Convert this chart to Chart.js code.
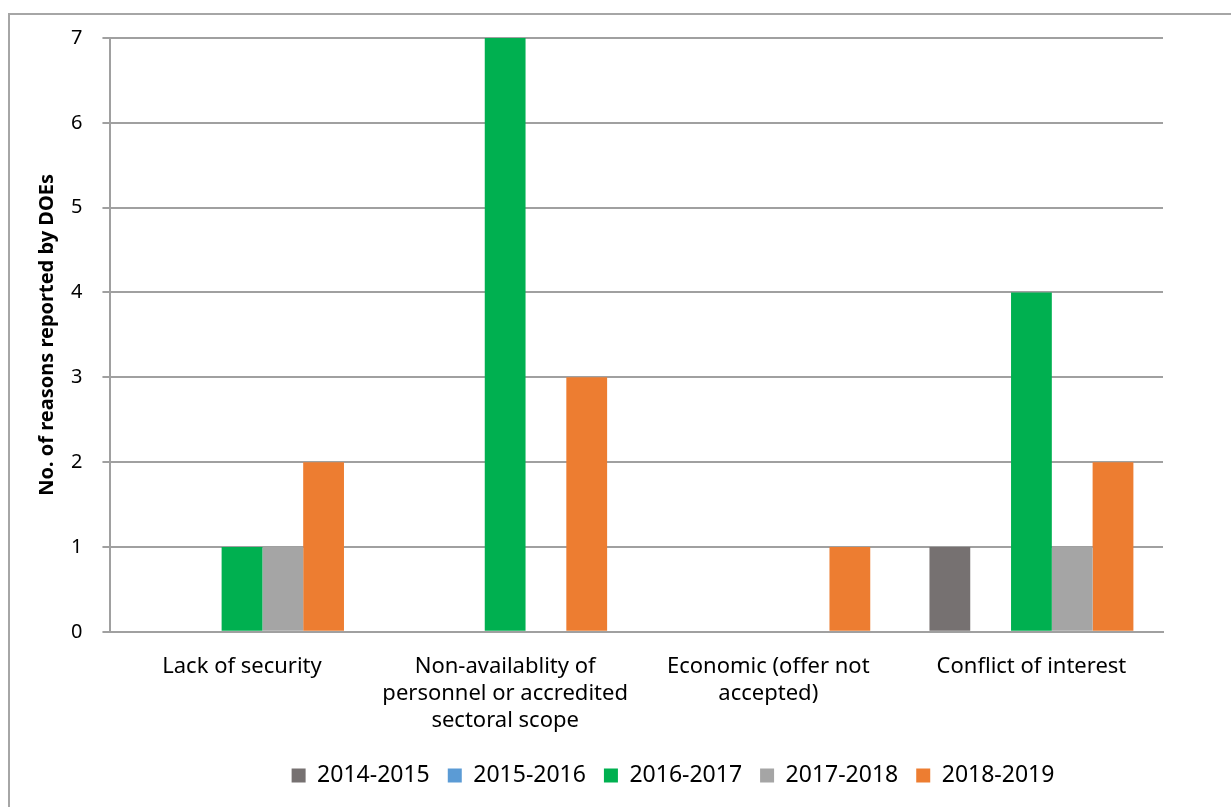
<!DOCTYPE html>
<html>
<head>
<meta charset="utf-8">
<script src="https://cdn.jsdelivr.net/npm/chart.js@4"></script>
<style>
  html, body { margin: 0; padding: 0; background: #fff; }
  #wrap { position: relative; width: 1231px; height: 807px; overflow: hidden; }
  #frame { position: absolute; left: 8px; top: 13px; width: 1300px; height: 900px; border: 2px solid #a6a6a6; box-sizing: border-box; }
  #chart { position: absolute; left: 0; top: 0; }
</style>
</head>
<body>
<div id="wrap">
  <div id="frame"></div>
  <canvas id="chart" width="1231" height="807"></canvas>
</div>
<script>
const categories = [
    "Lack of security",
    ["Non-availablity of", "personnel or accredited", "sectoral scope"],
    ["Economic (offer not", "accepted)"],
    "Conflict of interest",
];

const seriesNames = ["2014-2015", "2015-2016", "2016-2017", "2017-2018", "2018-2019"];

const v2014 = [0, 0, 0, 1];
const v2015 = [0, 0, 0, 0];
const v2016 = [1, 7, 0, 4];
const v2017 = [1, 0, 0, 1];
const v2018 = [2, 3, 1, 2];

const yTicks = [0, 1, 2, 3, 4, 5, 6, 7];

const colors = ["#767171", "#5b9bd5", "#00b050", "#a5a5a5", "#ed7d31"];
const allValues = [v2014, v2015, v2016, v2017, v2018];

const FONT = "'Noto Sans', 'Open Sans', sans-serif";

const datasets = seriesNames.map((name, i) => ({
    label: name,
    data: allValues[i],
    backgroundColor: colors[i],
    borderWidth: 0,
    categoryPercentage: 0.775,
    barPercentage: 1.0,
}));

// the legend in the original sits right of centre, nudge it over
const legendNudge = {
    id: "legendNudge",
    afterLayout(chart) {
        const lg = chart.legend;
        const dx = 673 - (lg.left + lg.right) / 2;
        lg.left += dx;
        lg.right += dx;
        lg.top -= 9;
        lg.bottom -= 9;
    },
};

new Chart(document.getElementById("chart"), {
    type: "bar",
    data: { labels: categories, datasets },
    plugins: [legendNudge],
    options: {
        responsive: false,
        animation: false,
        layout: { padding: { left: 25, top: 38, right: 68, bottom: 1 } },
        plugins: {
            tooltip: { enabled: false },
            legend: {
                position: "bottom",
                labels: {
                    boxWidth: 14,
                    boxHeight: 14,
                    color: "#000",
                    padding: 18,
                    font: { family: FONT, size: 23 },
                },
            },
        },
        scales: {
            x: {
                grid: { display: false, drawTicks: false },
                border: { display: true, color: "#a0a0a0", width: 2 },
                ticks: {
                    color: "#000",
                    maxRotation: 0,
                    autoSkip: false,
                    padding: 21,
                    font: { family: FONT, size: 22, lineHeight: 1.23 },
                },
            },
            y: {
                min: 0,
                max: 7,
                afterBuildTicks: (axis) => { axis.ticks = yTicks.map(v => ({ value: v })); },
                grid: { color: "#a0a0a0", lineWidth: 2, tickLength: 8 },
                border: { display: true, color: "#a0a0a0", width: 2 },
                ticks: {
                    color: "#000",
                    padding: 20,
                    font: { family: FONT, size: 20 },
                },
                title: {
                    display: true,
                    text: "No. of reasons reported by DOEs",
                    color: "#000",
                    padding: { top: 10, bottom: -8 },
                    font: { family: FONT, size: 20, weight: "bold" },
                },
            },
        },
    },
});
</script>
</body>
</html>
